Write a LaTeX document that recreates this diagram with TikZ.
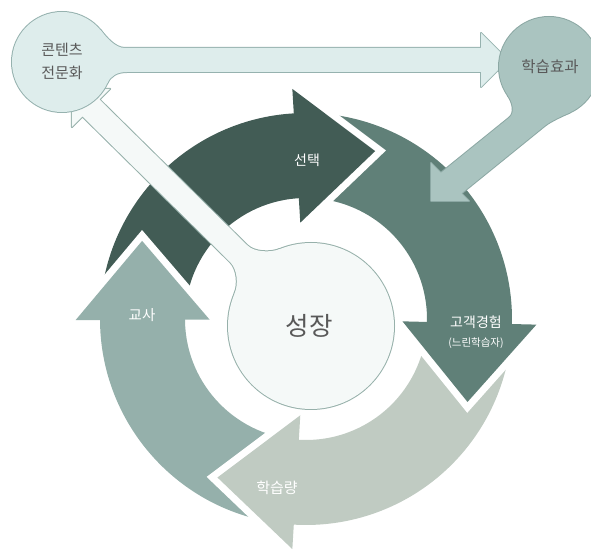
\documentclass[tikz,border=0pt]{standalone}
\usepackage{fontspec}
\setmainfont{Noto Sans CJK KR}
\usetikzlibrary{calc}
\definecolor{cSel}{RGB}{66,92,85}
\definecolor{cCus}{RGB}{96,128,120}
\definecolor{cAmt}{RGB}{192,203,194}
\definecolor{cTea}{RGB}{149,176,171}
\definecolor{cConF}{RGB}{222,237,236}
\definecolor{cConD}{RGB}{150,178,175}
\definecolor{cEffF}{RGB}{170,196,192}
\definecolor{cEffD}{RGB}{140,168,164}
\definecolor{cGroF}{RGB}{245,249,248}
\definecolor{cGroD}{RGB}{150,176,170}
\definecolor{cTxt}{RGB}{89,89,89}
\newcommand\ringband[3]{%
  \fill[#1] ($(R)+(#2-1:206)$) arc[start angle=#2-1, end angle=#3-2, radius=206]
    -- ($(R)+(#3-2:121)$) arc[start angle=#3-2, end angle=#2-1, radius=121] -- cycle;}
\newcommand\ringhead[3]{%
  \coordinate (#3o) at ($(R)+(#2:230.5)$);
  \coordinate (#3i) at ($(R)+(#2:96.5)$);
  \coordinate (#3t) at ($(R)+(#2:163.5)+(#2-90:79)$);
  \draw[white,line width=14pt,line join=miter,miter limit=10] (#3o) -- (#3t) -- (#3i);
  \fill[#1] (#3o) -- (#3t) -- (#3i) -- cycle;}
\begin{document}
\begin{tikzpicture}[x=1pt,y=1pt,
  lbl/.style={text=white, inner sep=0pt},
  dk/.style={text=cTxt, inner sep=0pt},
  outl/.style={draw=#1, line width=2pt, line join=round}]
\useasboundingbox (0,0) rectangle (591,551);
\clip (0,0) rectangle (591,551);
\coordinate (R) at (306,232);
% ring bands
\ringband{cSel}{180.3}{93.4}
\ringband{cCus}{93.4}{-1.4}
\ringband{cAmt}{-1.4}{-93.4}
\ringband{cTea}{-93.4}{-179.7}
% ring heads
\ringhead{cSel}{93.4}{hs}
\ringhead{cCus}{-1.4}{hc}
\ringhead{cAmt}{-93.4}{ha}
\ringhead{cTea}{-179.7}{ht}
% balloon: growth
\coordinate (gc) at (311,225);
\coordinate (cG1) at (279.9,302.0);
\coordinate (cc1) at (270.6,298.3);
\coordinate (cc2) at (254.4,298.6);
\coordinate (cF1) at (247.3,305.7);
\coordinate (cB1) at (99.5,451.5);
\coordinate (cW1) at (110.1,462.1);
\coordinate (cT) at (71.9,462.1);
\coordinate (cW2) at (71.9,423.9);
\coordinate (cB2) at (82.5,434.5);
\coordinate (cF2) at (230.3,288.7);
\coordinate (cc3) at (237.4,281.6);
\coordinate (cc4) at (238.5,266.6);
\coordinate (cG2) at (234.6,257.4);
\path[outl=cGroD] (gc) circle[radius=83];
\path[outl=cGroD] (cG1) .. controls (cc1) and (cc2) .. (cF1) -- (cB1) -- (cW1) -- (cT) -- (cW2) -- (cB2) -- (cF2) .. controls (cc3) and (cc4) .. (cG2) -- (gc) -- cycle;
\fill[cGroF] (gc) circle[radius=83];
\fill[cGroF] (cG1) .. controls (cc1) and (cc2) .. (cF1) -- (cB1) -- (cW1) -- (cT) -- (cW2) -- (cB2) -- (cF2) .. controls (cc3) and (cc4) .. (cG2) -- (gc) -- cycle;
% balloon: contents
\coordinate (ka) at (62,489);
\coordinate (aG1) at (100.3,521.1);
\coordinate (ac1) at (106.7,513.4);
\coordinate (ac2) at (115,503);
\coordinate (aF1) at (125,503);
\coordinate (aB1) at (481,503);
\coordinate (aW1) at (481,518);
\coordinate (aT) at (508,491);
\coordinate (aW2) at (481,464);
\coordinate (aB2) at (481,479);
\coordinate (aF2) at (127,479);
\coordinate (ac3) at (117,479);
\coordinate (ac4) at (110.7,475.2);
\coordinate (aG2) at (107.3,467.9);
\path[outl=cConD] (ka) circle[radius=50];
\path[outl=cConD] (aG1) .. controls (ac1) and (ac2) .. (aF1) -- (aB1) -- (aW1) -- (aT) -- (aW2) -- (aB2) -- (aF2) .. controls (ac3) and (ac4) .. (aG2) -- (ka) -- cycle;
\fill[cConF] (ka) circle[radius=50];
\fill[cConF] (aG1) .. controls (ac1) and (ac2) .. (aF1) -- (aB1) -- (aW1) -- (aT) -- (aW2) -- (aB2) -- (aF2) .. controls (ac3) and (ac4) .. (aG2) -- (ka) -- cycle;
% balloon: effect
\coordinate (kb) at (549,484);
\coordinate (bG1) at (508.0,455.3);
\coordinate (bc1) at (512.6,448.7);
\coordinate (bc2) at (515.4,438.3);
\coordinate (bF1) at (509.2,433.3);
\coordinate (bB1) at (440.9,378.1);
\coordinate (bW1) at (431,388);
\coordinate (bT) at (431,350);
\coordinate (bW2) at (469,350);
\coordinate (bB2) at (461.4,357.6);
\coordinate (bF2) at (544.8,425.2);
\coordinate (bc3) at (551.0,430.2);
\coordinate (bc4) at (562.9,435.3);
\coordinate (bG2) at (570.1,438.7);
\path[outl=cEffD] (kb) circle[radius=50];
\path[outl=cEffD] (bG1) .. controls (bc1) and (bc2) .. (bF1) -- (bB1) -- (bW1) -- (bT) -- (bW2) -- (bB2) -- (bF2) .. controls (bc3) and (bc4) .. (bG2) -- (kb) -- cycle;
\fill[cEffF] (kb) circle[radius=50];
\fill[cEffF] (bG1) .. controls (bc1) and (bc2) .. (bF1) -- (bB1) -- (bW1) -- (bT) -- (bW2) -- (bB2) -- (bF2) .. controls (bc3) and (bc4) .. (bG2) -- (kb) -- cycle;
% labels
\node[dk, font=\fontsize{25.5}{28}\selectfont] (grow) at (309,225) {성장};
\node[dk, align=center, font=\fontsize{15}{23}\selectfont] (cont) at (62,489.5) {콘텐츠\\전문화};
\node[dk, font=\fontsize{15.5}{18}\selectfont] (eff) at (550,484) {학습효과};
\node[lbl, font=\fontsize{14}{16}\selectfont] (sel) at (307,391) {선택};
\node[lbl, font=\fontsize{14}{16}\selectfont] (cus) at (476,229) {고객경험};
\node[lbl, font=\fontsize{10.5}{12}\selectfont] (slow) at (476,208) {(느린학습자)};
\node[lbl, font=\fontsize{15}{17}\selectfont] (amt) at (277,63) {학습량};
\node[lbl, font=\fontsize{14.5}{16}\selectfont] (tea) at (142,236) {교사};
\end{tikzpicture}
\end{document}
